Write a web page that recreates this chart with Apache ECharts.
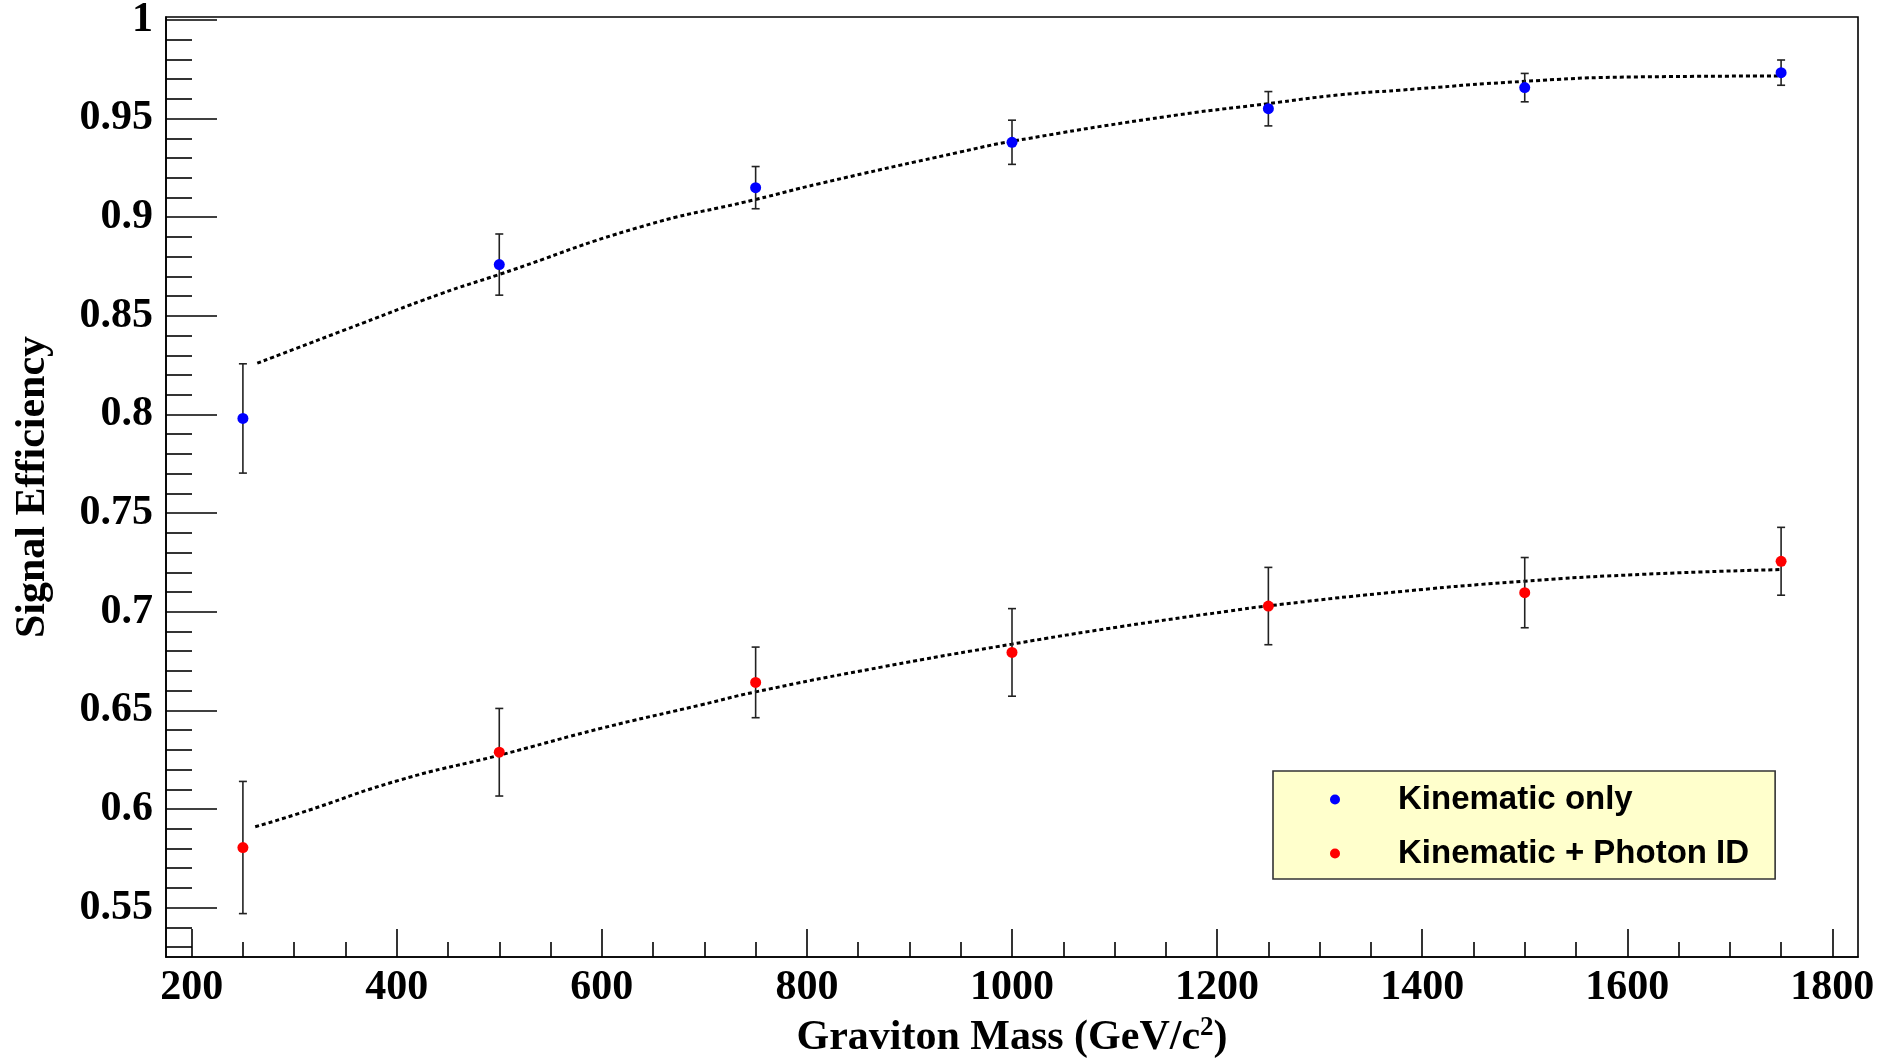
<!DOCTYPE html>
<html>
<head>
<meta charset="utf-8">
<script src="https://cdn.jsdelivr.net/npm/echarts@6/dist/echarts.min.js"></script>
<style>
html,body{margin:0;padding:0;background:#fff;}
#chart{width:1896px;height:1059px;}
</style>
</head>
<body>
<div id="chart"></div>
<script>
// ---- data ----
const massPoints = [250, 500, 750, 1000, 1250, 1500, 1750];
const kinOnly = [0.798, 0.876, 0.915, 0.938, 0.955, 0.9657, 0.9733];
const kinOnlyErr = [0.0277, 0.0155, 0.0107, 0.0112, 0.0087, 0.0072, 0.0064];
const kinPhoton = [0.5805, 0.6288, 0.6642, 0.6794, 0.7029, 0.7097, 0.7256];
const kinPhotonErr = [0.0335, 0.0222, 0.0179, 0.0222, 0.0196, 0.0178, 0.0172];

const fitKinX = [264, 350, 442, 500, 637, 750, 812, 949, 1000, 1150, 1250, 1319, 1378, 1500, 1605, 1750];
const fitKinY = [0.826, 0.843, 0.861, 0.871, 0.895, 0.909, 0.917, 0.933, 0.9385, 0.951, 0.9576, 0.962, 0.9644, 0.9689, 0.9711, 0.9716];
const fitPhoX = [262, 306, 403, 501, 600, 696, 750, 874, 1000, 1105, 1212, 1250, 1366, 1500, 1616, 1750];
const fitPhoY = [0.591, 0.598, 0.6147, 0.6274, 0.641, 0.6527, 0.6594, 0.6721, 0.6836, 0.6924, 0.7004, 0.703, 0.7096, 0.7155, 0.719, 0.7214];

const seriesNames = ['Kinematic only', 'Kinematic + Photon ID'];
const xMajorTicks = [200, 400, 600, 800, 1000, 1200, 1400, 1600, 1800];
const xMinorTicks = [250, 300, 350, 450, 500, 550, 650, 700, 750, 850, 900, 950, 1050, 1100, 1150, 1250, 1300, 1350, 1450, 1500, 1550, 1650, 1700, 1750];
const yMajorTicks = [0.55, 0.6, 0.65, 0.7, 0.75, 0.8, 0.85, 0.9, 0.95, 1];
const yMinorTicks = [0.53, 0.54, 0.56, 0.57, 0.58, 0.59, 0.61, 0.62, 0.63, 0.64, 0.66, 0.67, 0.68, 0.69,
  0.71, 0.72, 0.73, 0.74, 0.76, 0.77, 0.78, 0.79, 0.81, 0.82, 0.83, 0.84, 0.86, 0.87, 0.88, 0.89,
  0.91, 0.92, 0.93, 0.94, 0.96, 0.97, 0.98, 0.99];
const xRange = [175, 1825];
const yRange = [0.525, 1.0015];
const xTitleMain = 'Graviton Mass (GeV/c';
const xTitleSup = '2';
const xTitleEnd = ')';
const yTitle = 'Signal Efficiency';

// ---- build ----
const zip = (a, b) => a.map((v, i) => [v, b[i]]);
const zip3 = (a, b, c) => a.map((v, i) => [v, b[i], c[i]]);

const serif = '"Liberation Serif", "Times New Roman", serif';
const sans = '"Liberation Sans", Arial, Helvetica, sans-serif';

function errRender(params, api) {
  const x = api.value(0), y = api.value(1), e = api.value(2);
  const top = api.coord([x, y + e]);
  const bot = api.coord([x, y - e]);
  const cap = 4;
  const st = { stroke: '#222', lineWidth: 1.6 };
  return {
    type: 'group',
    children: [
      { type: 'line', shape: { x1: top[0], y1: top[1], x2: bot[0], y2: bot[1] }, style: st },
      { type: 'line', shape: { x1: top[0] - cap, y1: top[1], x2: top[0] + cap, y2: top[1] }, style: st },
      { type: 'line', shape: { x1: bot[0] - cap, y1: bot[1], x2: bot[0] + cap, y2: bot[1] }, style: st }
    ]
  };
}

const axisLineStyle = { color: '#000', width: 1.6 };

const option = {
  animation: false,
  backgroundColor: '#fff',
  grid: {
    left: 166, right: 38, top: 17, bottom: 102,
    containLabel: false, outerBoundsMode: 'none',
    show: true, borderColor: '#000', borderWidth: 1.6, backgroundColor: 'transparent'
  },
  xAxis: [
    {
      type: 'value', min: xRange[0], max: xRange[1], position: 'bottom',
      axisLine: { show: true, lineStyle: axisLineStyle },
      axisTick: { show: true, inside: true, length: 28, customValues: xMajorTicks, lineStyle: axisLineStyle },
      axisLabel: { show: true, customValues: xMajorTicks, margin: 10, color: '#000',
        fontFamily: serif, fontWeight: 'bold', fontSize: 42, formatter: v => String(Math.round(v)) },
      splitLine: { show: false },
      name: '{m|' + xTitleMain + '}{s|' + xTitleSup + '}{m|' + xTitleEnd + '}',
      nameLocation: 'middle', nameGap: 58,
      nameTextStyle: {
        fontFamily: serif, fontWeight: 'bold', fontSize: 42, color: '#000',
        rich: {
          m: { fontFamily: serif, fontWeight: 'bold', fontSize: 42, color: '#000', lineHeight: 46 },
          s: { fontFamily: serif, fontWeight: 'bold', fontSize: 27, color: '#000', lineHeight: 46, verticalAlign: 'top', padding: [0, 0, 14, 0] }
        }
      }
    },
    {
      type: 'value', min: xRange[0], max: xRange[1], position: 'bottom',
      axisLine: { show: false },
      axisTick: { show: true, inside: true, length: 15, customValues: xMinorTicks, lineStyle: axisLineStyle },
      axisLabel: { show: false },
      splitLine: { show: false }
    }
  ],
  yAxis: [
    {
      type: 'value', min: yRange[0], max: yRange[1], position: 'left',
      axisLine: { show: true, lineStyle: axisLineStyle },
      axisTick: { show: true, inside: true, length: 51, customValues: yMajorTicks, lineStyle: axisLineStyle },
      axisLabel: { show: true, customValues: yMajorTicks, margin: 13, color: '#000', padding: [7, 0, 0, 0],
        fontFamily: serif, fontWeight: 'bold', fontSize: 42, formatter: v => String(+(+v).toFixed(2)) },
      splitLine: { show: false },
      name: yTitle, nameLocation: 'middle', nameGap: 112, nameRotate: 90,
      nameTextStyle: { fontFamily: serif, fontWeight: 'bold', fontSize: 42, color: '#000' }
    },
    {
      type: 'value', min: yRange[0], max: yRange[1], position: 'left',
      axisLine: { show: false },
      axisTick: { show: true, inside: true, length: 26, customValues: yMinorTicks, lineStyle: axisLineStyle },
      axisLabel: { show: false },
      splitLine: { show: false }
    }
  ],
  legend: {
    show: true,
    data: seriesNames,
    orient: 'vertical',
    left: 1273, top: 771,
    padding: [12, 26, 9, 57],
    itemGap: 21,
    itemWidth: 116, itemHeight: 10,
    icon: 'circle',
    backgroundColor: '#ffffcc',
    borderColor: '#333',
    borderWidth: 1.6,
    textStyle: { fontFamily: sans, fontWeight: 'bold', fontSize: 33, color: '#000' }
  },
  series: [
    {
      name: 'fit1', type: 'line', data: zip(fitKinX, fitKinY), smooth: true, symbol: 'none',
      xAxisIndex: 0, yAxisIndex: 0, z: 2,
      lineStyle: { color: '#000', width: 3, type: [4, 3] }
    },
    {
      name: 'fit2', type: 'line', data: zip(fitPhoX, fitPhoY), smooth: true, symbol: 'none',
      xAxisIndex: 0, yAxisIndex: 0, z: 2,
      lineStyle: { color: '#000', width: 3, type: [4, 3] }
    },
    {
      name: 'err1', type: 'custom', renderItem: errRender, data: zip3(massPoints, kinOnly, kinOnlyErr),
      xAxisIndex: 0, yAxisIndex: 0, z: 3
    },
    {
      name: 'err2', type: 'custom', renderItem: errRender, data: zip3(massPoints, kinPhoton, kinPhotonErr),
      xAxisIndex: 0, yAxisIndex: 0, z: 3
    },
    {
      name: seriesNames[0], type: 'scatter', data: zip(massPoints, kinOnly), symbol: 'circle', symbolSize: 11,
      xAxisIndex: 0, yAxisIndex: 0, z: 4,
      itemStyle: { color: '#0000ff', opacity: 1 }
    },
    {
      name: seriesNames[1], type: 'scatter', data: zip(massPoints, kinPhoton), symbol: 'circle', symbolSize: 11,
      xAxisIndex: 0, yAxisIndex: 0, z: 4,
      itemStyle: { color: '#ff0000', opacity: 1 }
    }
  ]
};

const chart = echarts.init(document.getElementById('chart'), null, { renderer: 'canvas' });
chart.setOption(option);
</script>
</body>
</html>
